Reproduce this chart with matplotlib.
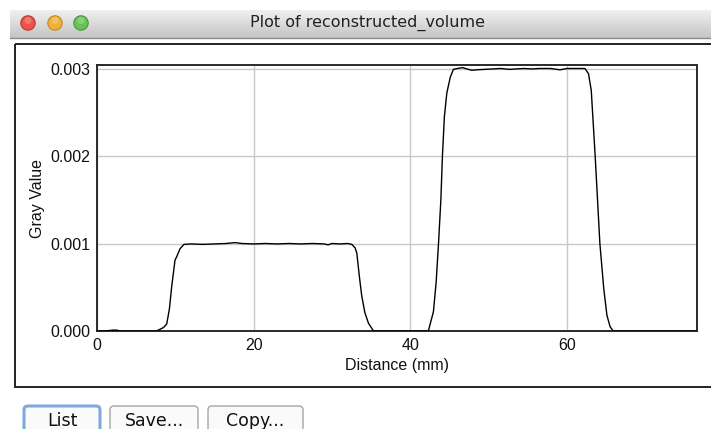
"""Recreate the ImageJ 'Plot of reconstructed_volume' profile window."""

import numpy as np
import matplotlib
matplotlib.use("Agg")
import matplotlib.pyplot as plt
from matplotlib.patches import FancyBboxPatch, Circle, Rectangle

# ── Data ─────────────────────────────────────────────────
distance_mm = [
    0.0, 1.0, 2.0, 2.5, 3.0, 4.0, 5.0, 6.0, 7.0, 7.6, 8.5, 8.9, 9.24, 9.54,
    9.96, 10.18, 10.6, 11.1, 12.0, 13.5, 15.0, 16.5, 17.6, 18.5, 20.0, 21.5,
    23.0, 24.5, 26.0, 27.5, 29.0, 29.5, 30.0, 31.0, 32.0, 32.53, 32.95, 33.17,
    33.5, 33.8, 34.2, 34.65, 35.3, 36.0, 37.5, 39.0, 40.5, 42.3, 42.95, 43.3,
    43.6, 43.9, 44.1, 44.35, 44.66, 45.1, 45.5, 46.0, 46.7, 47.2, 47.85,
    48.5, 49.5, 50.5, 51.5, 52.7, 53.5, 54.5, 55.5, 56.5, 57.9, 59.1, 60.0,
    61.0, 62.3, 62.75, 63.1, 63.3, 63.6, 63.9, 64.2, 64.7, 65.1, 65.5, 65.9,
    67.0, 68.5, 70.0, 71.5, 73.0, 74.5, 76.6,
]
gray_value_e3 = [  # gray value in units of 1e-3
    0.00, 0.00, 0.01, 0.01, 0.00, 0.00, 0.00, 0.00, 0.00, 0.00, 0.04, 0.08,
    0.25, 0.51, 0.81, 0.85, 0.94, 0.99, 0.995, 0.99, 0.995, 1.00, 1.01, 1.00,
    0.995, 1.00, 0.995, 1.00, 0.995, 1.00, 0.995, 0.985, 1.00, 0.995, 1.00,
    0.99, 0.95, 0.89, 0.62, 0.40, 0.21, 0.09, 0.00, 0.00, 0.00, 0.00, 0.00,
    0.00, 0.22, 0.56, 1.00, 1.50, 2.00, 2.45, 2.72, 2.90, 2.99, 3.00, 3.01,
    2.995, 2.98, 2.985, 2.99, 2.995, 3.00, 2.99, 2.995, 3.00, 2.995, 3.00,
    3.00, 2.985, 3.00, 3.00, 3.00, 2.94, 2.75, 2.45, 2.00, 1.50, 1.00, 0.48,
    0.18, 0.05, 0.00, 0.00, 0.00, 0.00, 0.00, 0.00, 0.00, 0.00,
]
x_ticks = [0, 20, 40, 60]
y_ticks = [0.000, 0.001, 0.002, 0.003]
y_tick_labels = ["0.000", "0.001", "0.002", "0.003"]

W, H = 711, 429
fig = plt.figure(figsize=(W / 100, H / 100), dpi=100)
fig.patch.set_facecolor("white")

# ── Window chrome, drawn in pixel coordinates ─────────────
bg = fig.add_axes([0, 0, 1, 1], zorder=0)
bg.set_xlim(0, W)
bg.set_ylim(H, 0)
bg.axis("off")

grad = np.linspace(0, 1, 64).reshape(-1, 1)
bg.imshow(grad, cmap=matplotlib.colors.LinearSegmentedColormap.from_list(
    "tb", ["#f0f0f0", "#c4c4c4"]), extent=(10, W, 38, 10), aspect="auto",
    zorder=1)
bg.plot([10, W], [38, 38], color="#8c8c8c", lw=1, zorder=2)
bg.text(367, 23, "Plot of reconstructed_volume", ha="center", va="center",
        fontsize=11.5, color="#222222", family="DejaVu Sans", zorder=3)

for cx, face, edge in [(28, "#ee5149", "#b53b35"),
                       (55, "#f0b03a", "#c08a23"),
                       (81, "#69c157", "#4a9440")]:
    bg.add_patch(Circle((cx, 23), 7.2, facecolor=face, edgecolor=edge,
                        lw=0.8, zorder=3))
    bg.add_patch(Circle((cx, 20.5), 3.6, facecolor="white", alpha=0.22,
                        lw=0, zorder=4))

# panel border
bg.add_patch(Rectangle((15, 43.5), W, 343, fill=False, edgecolor="#222222",
                       lw=1.4, zorder=2))

# buttons
for x0, x1, label, edge in [(24, 100, "List", "#7ea9dc"),
                            (110, 198, "Save...", "#a5a5a5"),
                            (208, 303, "Copy...", "#a5a5a5")]:
    bg.add_patch(FancyBboxPatch((x0, 406), x1 - x0, 30,
                                boxstyle="round,pad=0,rounding_size=4",
                                facecolor="#fafafa", edgecolor=edge,
                                lw=2.2 if label == "List" else 1.0, zorder=2))
    bg.text((x0 + x1) / 2, 421, label, ha="center", va="center",
            fontsize=12.5, color="#111111", family="DejaVu Sans", zorder=3)

# ── Plot area ─────────────────────────────────────────────
ax = fig.add_axes([97 / W, 1 - 331 / H, 600 / W, 266 / H], zorder=5)
ax.set_facecolor("white")

x = np.array(distance_mm)
y = np.array(gray_value_e3) * 1e-3
ax.plot(x, y, color="black", lw=1.0, zorder=3)

ax.set_xlim(0, 76.6)
ax.set_ylim(0, 0.00304)
ax.set_xticks(x_ticks)
ax.set_yticks(y_ticks)
ax.set_yticklabels(y_tick_labels)
ax.grid(True, color="#c8c8c8", lw=1.0)
ax.set_axisbelow(True)
ax.tick_params(length=0, labelsize=11.5, pad=5, labelcolor="#111111")
for lab in ax.get_xticklabels() + ax.get_yticklabels():
    lab.set_family("Liberation Sans")
for s in ax.spines.values():
    s.set_color("#2a2a2a")
    s.set_linewidth(1.4)

ax.set_xlabel("Distance (mm)", fontsize=11.5, family="Liberation Sans",
              color="#111111")
ax.set_ylabel("Gray Value", fontsize=11.5, family="Liberation Sans",
              color="#111111")
ax.xaxis.set_label_coords(0.5, -0.1)
ax.yaxis.set_label_coords(-0.087, 0.5)

fig.savefig("out.png", dpi=100)
plt.close(fig)
